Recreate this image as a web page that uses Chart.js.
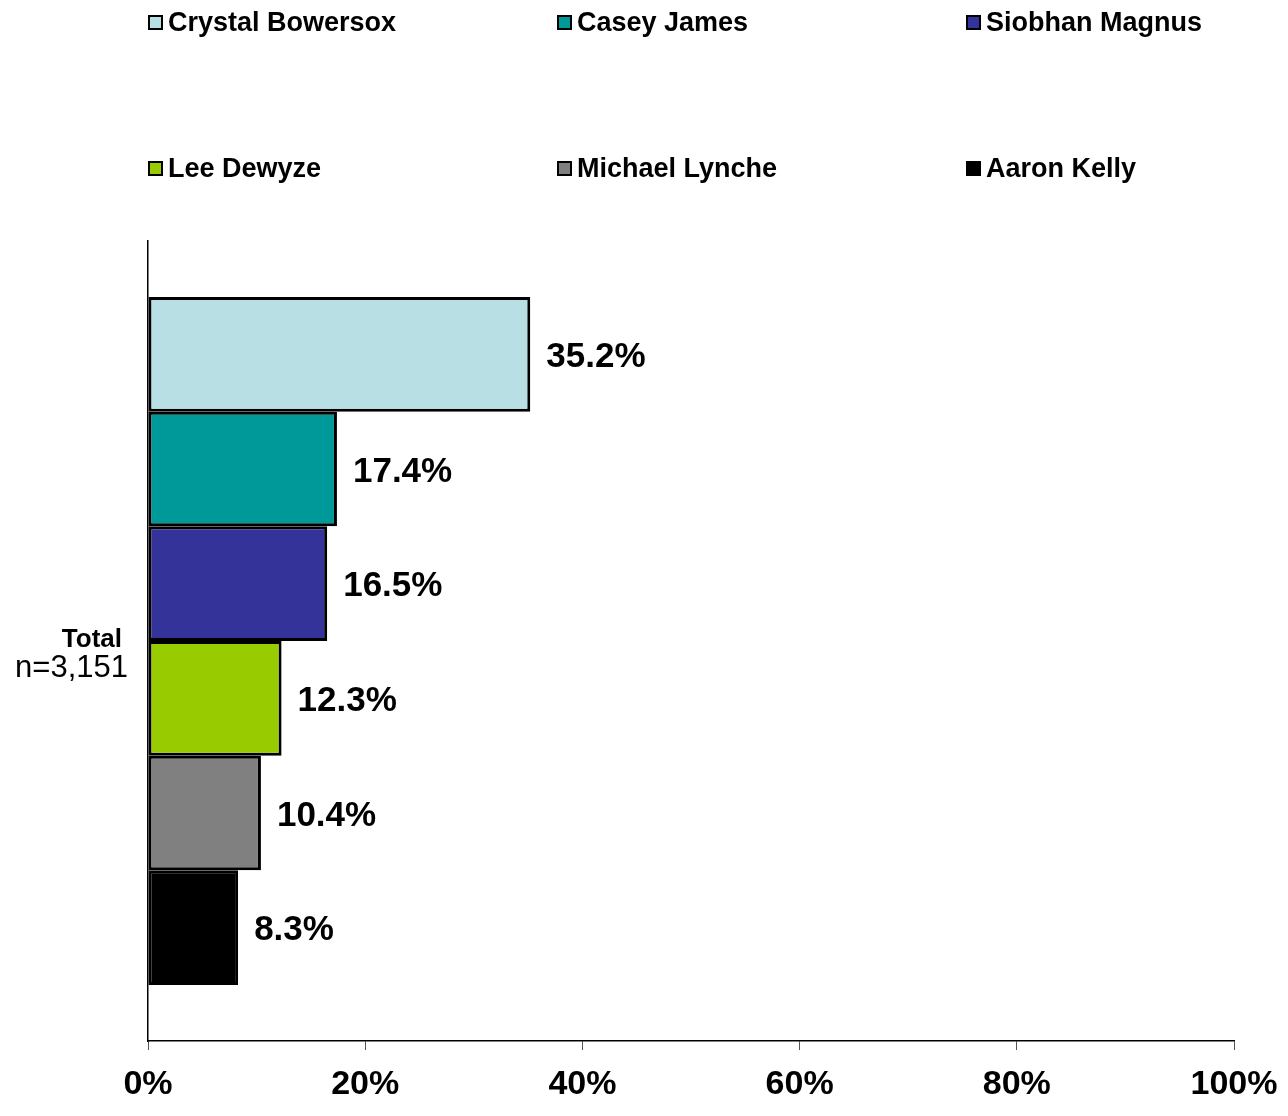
<!DOCTYPE html>
<html>
<head>
<meta charset="utf-8">
<script src="https://cdn.jsdelivr.net/npm/chart.js@4/dist/chart.umd.min.js"></script>
<style>
  body { margin: 0; background: #fff; }
  #wrap { width: 1288px; height: 1116px; position: relative; }
</style>
</head>
<body>
<div id="wrap"><canvas id="voteChart"></canvas></div>
<script>
// data
const categories = ['Total'];
const sampleSize = 'n=3,151';
const contestants = ['Crystal Bowersox', 'Casey James', 'Siobhan Magnus', 'Lee Dewyze', 'Michael Lynche', 'Aaron Kelly'];
const shares = [35.2, 17.4, 16.5, 12.3, 10.4, 8.3];
const xTicks = [0, 20, 40, 60, 80, 100];

const colors = ['#B8E0E4', '#009999', '#333399', '#99CC00', '#808080', '#000000'];
const FONT = "'Liberation Sans', Arial, sans-serif";

// legend drawn in 2 rows x 3 columns like the original
const gridLegend = {
    id: 'gridLegend',
    afterDraw(chart) {
        const ctx = chart.ctx;
        const cols = [148, 557, 966];
        const rows = [23, 169];
        ctx.save();
        ctx.font = 'bold 27px ' + FONT;
        ctx.textBaseline = 'middle';
        ctx.textAlign = 'left';
        chart.data.datasets.forEach((ds, i) => {
            const x = cols[i % 3];
            const y = rows[Math.floor(i / 3)];
            ctx.fillStyle = ds.backgroundColor;
            ctx.fillRect(x + 1, y - 7, 13, 13);
            ctx.strokeStyle = '#000';
            ctx.lineWidth = 2;
            ctx.strokeRect(x + 1, y - 7, 13, 13);
            ctx.fillStyle = '#000';
            ctx.fillText(ds.label, x + 20, y + 1);
        });
        ctx.restore();
    }
};

// value labels at bar ends + category label on the left
const barLabels = {
    id: 'barLabels',
    afterDatasetsDraw(chart) {
        const ctx = chart.ctx;
        ctx.save();
        ctx.font = 'bold 35px ' + FONT;
        ctx.fillStyle = '#000';
        ctx.textBaseline = 'middle';
        ctx.textAlign = 'left';
        chart.data.datasets.forEach((ds, i) => {
            const bar = chart.getDatasetMeta(i).data[0];
            ctx.fillText(ds.data[0].toFixed(1) + '%', bar.x + 16, bar.y + 3);
        });

        const yScale = chart.scales.y;
        const cy = yScale.getPixelForValue(0);
        ctx.textAlign = 'right';
        ctx.font = 'bold 26px ' + FONT;
        ctx.fillText(categories[0], 122, cy - 1);
        ctx.font = '31px ' + FONT;
        ctx.fillText(sampleSize, 128, cy + 27);
        ctx.restore();
    }
};

const ctx = document.getElementById('voteChart').getContext('2d');
new Chart(ctx, {
    type: 'bar',
    data: {
        labels: categories,
        datasets: contestants.map((name, i) => ({
            label: name,
            data: [shares[i]],
            backgroundColor: colors[i],
            borderColor: '#000',
            borderWidth: 3,
            borderSkipped: false,
            categoryPercentage: 0.86,
            barPercentage: 1
        }))
    },
    options: {
        indexAxis: 'y',
        responsive: true,
        maintainAspectRatio: false,
        animation: false,
        layout: { padding: { top: 241, right: 54, left: 0, bottom: 0 } },
        plugins: {
            legend: { display: false },
            tooltip: { enabled: false }
        },
        scales: {
            x: {
                min: 0,
                max: 100,
                afterBuildTicks: (s) => { s.ticks = xTicks.map(v => ({ value: v })); },
                afterFit: (s) => {
                    s.height = 1116 - 1041;
                    s.paddingLeft = 0;
                    s.paddingRight = 0;
                },
                border: { color: '#000', width: 1.5 },
                grid: { drawOnChartArea: false, drawTicks: true, tickLength: 9, color: '#555' },
                ticks: {
                    padding: 14,
                    color: '#000',
                    font: { family: FONT, size: 34, weight: 'bold' },
                    callback: (v) => v + '%'
                }
            },
            y: {
                afterFit: (s) => { s.width = 148; },
                border: { color: '#000', width: 1.5 },
                grid: { display: false },
                ticks: { display: false }
            }
        }
    },
    plugins: [gridLegend, barLabels]
});
</script>
</body>
</html>
